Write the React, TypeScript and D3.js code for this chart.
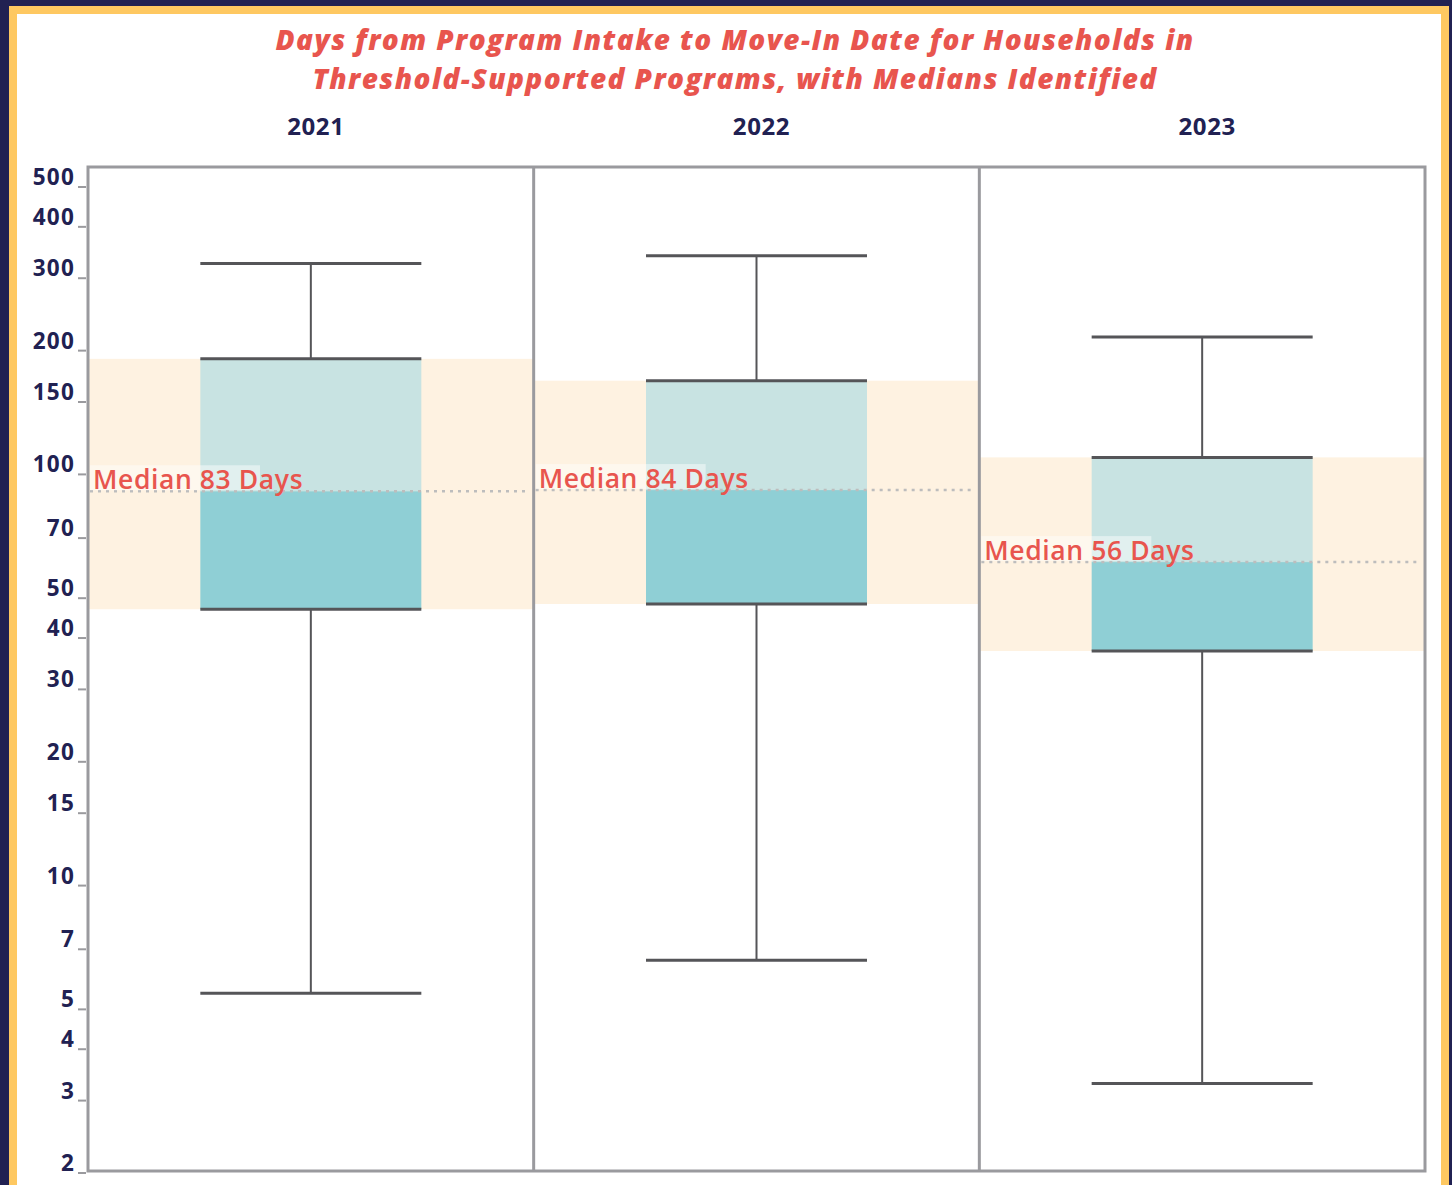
import React from "react";
import * as d3 from "d3";

const years = ["2021", "2022", "2023"];
const whiskerLow = [5.47, 6.58, 3.3];
const q1 = [47, 48.4, 37.2];
const medianLine = [91, 91.6, 61.2];
const q3 = [191, 169, 110];
const whiskerHigh = [326, 340, 216];
const medianLabels = ["Median 83 Days", "Median 84 Days", "Median 56 Days"];
const tickValues = [2, 3, 4, 5, 7, 10, 15, 20, 30, 40, 50, 70, 100, 150, 200, 300, 400, 500];
const titleLines = [
  "Days from Program Intake to Move-In Date for Households in",
  "Threshold-Supported Programs, with Medians Identified",
];

const W = 1452;
const H = 1185;
const NAVY = "#212152";
const YELLOW = "#fec861";
const RED = "#e8554e";
const FONT = "'Open Sans', 'Noto Sans', sans-serif";

export default function App() {
  const left = 88;
  const right = 1425;
  const top = 167;
  const bottom = 1171;
  const y = d3.scaleLog().domain([2, 500]).range([1173, 187]);
  const x = d3.scaleBand().domain(years).range([left, right]).paddingInner(0).paddingOuter(0);
  const bw = x.bandwidth();
  const boxW = 221;

  return (
    <svg width={W} height={H} style={{ position: "absolute", left: 0, top: 0 }}>
      <rect x={0} y={0} width={W} height={H} fill={NAVY} />
      <rect x={9} y={6} width={1440} height={H} fill={YELLOW} />
      <rect x={17} y={14} width={1424} height={H} fill="#ffffff" />

      {titleLines.map((t, i) => (
        <text
          key={t}
          x={735}
          y={50 + i * 39}
          textAnchor="middle"
          fontFamily={FONT}
          fontWeight={800}
          fontStyle="italic"
          fontSize={28}
          letterSpacing={1.4}
          fill={RED}
        >
          {t}
        </text>
      ))}

      {years.map((yr) => (
        <text
          key={yr}
          x={(x(yr) as number) + bw / 2 + 5}
          y={135}
          textAnchor="middle"
          fontFamily={FONT}
          fontWeight={700}
          fontSize={24}
          letterSpacing={0.6}
          fill={NAVY}
        >
          {yr}
        </text>
      ))}

      {years.map((yr, i) => {
        const x0 = x(yr) as number;
        const cx = x0 + bw / 2;
        const bx = cx - boxW / 2;
        return (
          <g key={yr}>
            <rect x={x0} y={y(q3[i])} width={bw} height={y(q1[i]) - y(q3[i])} fill="#fef2e1" />
            <rect x={bx} y={y(q3[i])} width={boxW} height={y(medianLine[i]) - y(q3[i])} fill="#c8e3e2" />
            <rect x={bx} y={y(medianLine[i])} width={boxW} height={y(q1[i]) - y(medianLine[i])} fill="#8fcfd5" />
            <line x1={cx} x2={cx} y1={y(whiskerHigh[i])} y2={y(q3[i])} stroke="#555558" strokeWidth={2} />
            <line x1={cx} x2={cx} y1={y(q1[i])} y2={y(whiskerLow[i])} stroke="#555558" strokeWidth={2} />
            {[whiskerHigh[i], q3[i], q1[i], whiskerLow[i]].map((v, k) => (
              <line key={k} x1={bx} x2={bx + boxW} y1={y(v)} y2={y(v)} stroke="#555558" strokeWidth={3} />
            ))}
            <line
              x1={x0 + 2}
              x2={x0 + bw - 4}
              y1={y(medianLine[i])}
              y2={y(medianLine[i])}
              stroke="#bdbdbd"
              strokeWidth={2.5}
              strokeDasharray="3,5"
            />
            <rect x={x0 + 2} y={y(medianLine[i]) - 26} width={170} height={25} fill="#ffffff" opacity={0.45} />
            <text
              x={x0 + 5}
              y={y(medianLine[i]) - 2}
              fontFamily={FONT}
              fontWeight={600}
              fontSize={26.5}
              letterSpacing={0.6}
              fill={RED}
            >
              {medianLabels[i]}
            </text>
          </g>
        );
      })}

      <rect x={left} y={top} width={right - left} height={bottom - top} fill="none" stroke="#9a9a9e" strokeWidth={3} />
      {years.slice(1).map((yr) => (
        <line key={yr} x1={x(yr) as number} x2={x(yr) as number} y1={top} y2={bottom} stroke="#9a9a9e" strokeWidth={3} />
      ))}

      {tickValues.map((v) => (
        <g key={v}>
          <line x1={78} x2={86} y1={y(v)} y2={y(v)} stroke="#9a9a9e" strokeWidth={2} />
          <text
            x={75}
            y={y(v) - 2}
            textAnchor="end"
            fontFamily={FONT}
            fontWeight={700}
            fontSize={22.5}
            letterSpacing={1.2}
            fill={NAVY}
          >
            {v}
          </text>
        </g>
      ))}
    </svg>
  );
}
